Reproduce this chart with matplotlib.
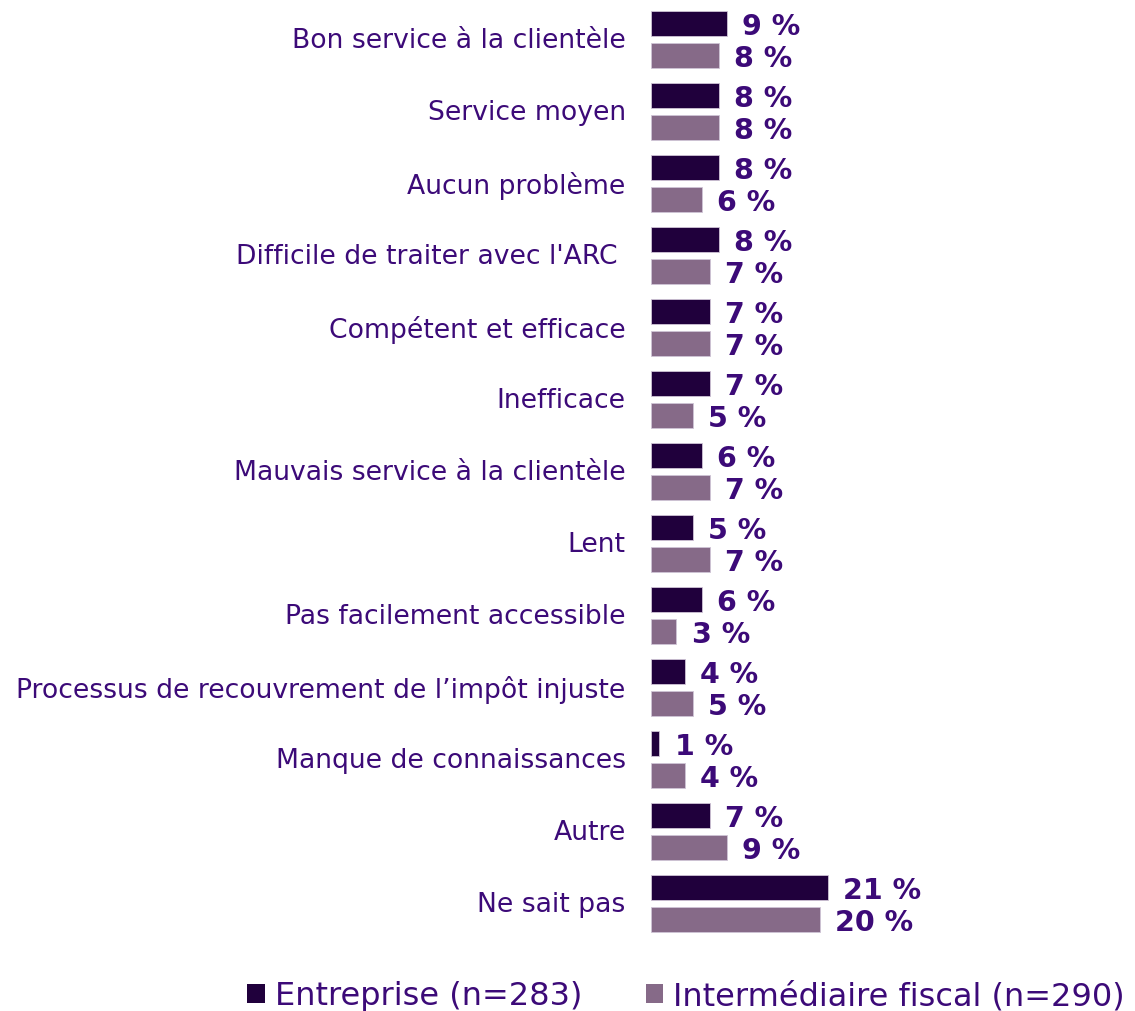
import matplotlib
matplotlib.use('Agg')
import matplotlib.pyplot as plt
import numpy as np
from matplotlib.patches import Patch

categories = [
    "Bon service à la clientèle",
    "Service moyen",
    "Aucun problème",
    "Difficile de traiter avec l'ARC ",
    "Compétent et efficace",
    "Inefficace",
    "Mauvais service à la clientèle",
    "Lent",
    "Pas facilement accessible",
    "Processus de recouvrement de l’impôt injuste",
    "Manque de connaissances",
    "Autre",
    "Ne sait pas",
]
entreprise = [9, 8, 8, 8, 7, 7, 6, 5, 6, 4, 1, 7, 21]
intermediaire = [8, 8, 6, 7, 7, 5, 7, 7, 3, 5, 4, 9, 20]
series_names = ["Entreprise (n=283)", "Intermédiaire fiscal (n=290)"]

dark = '#20003C'
light = '#866A88'
txt = '#3C0A78'

W, H = 1135, 1012
fig = plt.figure(figsize=(W / 100, H / 100), dpi=100)
px_per_pct = 8.44
x0 = 651
ax = fig.add_axes([x0 / W, (H - 940.5) / H, 30 * px_per_pct / W, 936 / H])
ax.set_xlim(0, 30)
ax.set_ylim(len(categories) - 0.5, -0.5)

y = np.arange(len(categories))
off = 16 / 72
h = 25 / 72
ax.barh(y - off, entreprise, height=h, color=dark, edgecolor='#cfc4d6', linewidth=0.6)
ax.barh(y + off, intermediaire, height=h, color=light, edgecolor='#cfc4d6', linewidth=0.6)

# small downward nudge so labels sit like the original
dy = 2.5 / 72
for i in range(len(categories)):
    ax.text(entreprise[i] + 1.8, y[i] - off + dy, f"{entreprise[i]} %", va='center', ha='left',
            fontsize=20.5, fontweight='bold', color=txt, clip_on=False)
    ax.text(intermediaire[i] + 1.8, y[i] + off + dy, f"{intermediaire[i]} %", va='center', ha='left',
            fontsize=20.5, fontweight='bold', color=txt, clip_on=False)
    ax.text(-3.0, y[i] + 1 / 72, categories[i], va='center', ha='right', fontsize=19.2,
            color=txt, clip_on=False)

ax.axis('off')

handles = [Patch(facecolor=dark), Patch(facecolor=light)]
fig.legend(handles, series_names, loc='center', bbox_to_anchor=(686 / W, 1 - 997 / H),
           ncol=2, frameon=False, fontsize=23, handlelength=0.55, handleheight=0.55,
           handletextpad=0.3, columnspacing=2.0, labelcolor=txt)

fig.savefig('out.png', dpi=100)
